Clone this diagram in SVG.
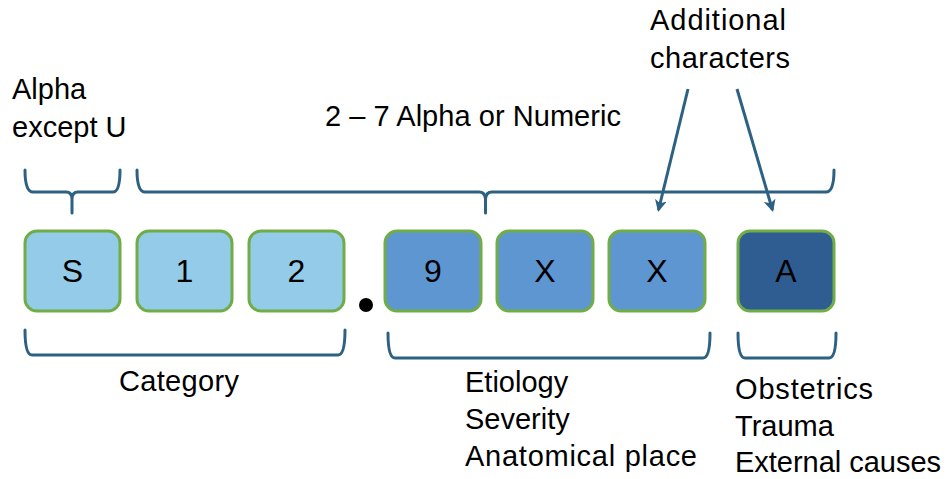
<svg xmlns="http://www.w3.org/2000/svg" width="949" height="479" viewBox="0 0 949 479">
  <style>
    text { font-family: "Liberation Sans", Arial, sans-serif; fill: #000; }
    .lbl { font-size: 29px; }
    .code { font-size: 32px; text-anchor: middle; }
    .box { stroke: #70AD47; stroke-width: 3; }
    .light { fill: #94CBE8; }
    .mid { fill: #5E96D2; }
    .dark { fill: #2F5C91; }
    .brace { fill: none; stroke: #2D6184; stroke-width: 3; stroke-linecap: round; stroke-linejoin: round; }
    .arrow { fill: none; stroke: #2D6184; stroke-width: 3; }
  </style>
  <defs>
    <marker id="head" viewBox="0 0 12 12" markerWidth="12" markerHeight="12" refX="10" refY="6" orient="auto" markerUnits="userSpaceOnUse">
      <path d="M0,0 L12,6 L0,12 L3,6 z" fill="#2D6184"/>
    </marker>
  </defs>

  <rect width="949" height="479" fill="#fff"/>

  <!-- Labels -->
  <g id="labels">
    <text class="lbl" x="12" y="99">Alpha</text>
    <text class="lbl" x="12" y="137">except U</text>
    <text class="lbl" x="325" y="126" textLength="296">2 – 7 Alpha or Numeric</text>
    <text class="lbl" x="650" y="30" textLength="136">Additional</text>
    <text class="lbl" x="650" y="68" textLength="140">characters</text>
    <text class="lbl" x="119" y="391" textLength="120">Category</text>
    <text class="lbl" x="465" y="392">Etiology</text>
    <text class="lbl" x="465" y="429">Severity</text>
    <text class="lbl" x="465" y="466" textLength="232">Anatomical place</text>
    <text class="lbl" x="735" y="399" textLength="138">Obstetrics</text>
    <text class="lbl" x="735" y="436">Trauma</text>
    <text class="lbl" x="735" y="472" textLength="206">External causes</text>
  </g>

  <!-- Character boxes -->
  <g id="char-S"><rect class="box light" x="25" y="231" width="95" height="80" rx="12"/><text class="code" x="72.5" y="282">S</text></g>
  <g id="char-1"><rect class="box light" x="137" y="231" width="95" height="80" rx="12"/><text class="code" x="184.5" y="282">1</text></g>
  <g id="char-2"><rect class="box light" x="249" y="231" width="95" height="80" rx="12"/><text class="code" x="296.5" y="282">2</text></g>
  <g id="dot"><circle cx="366" cy="305" r="7" fill="#000"/></g>
  <g id="char-9"><rect class="box mid" x="385" y="231" width="96" height="80" rx="12"/><text class="code" x="433" y="282">9</text></g>
  <g id="char-X1"><rect class="box mid" x="497" y="231" width="96" height="80" rx="12"/><text class="code" x="545" y="282">X</text></g>
  <g id="char-X2"><rect class="box mid" x="609" y="231" width="96" height="80" rx="12"/><text class="code" x="657" y="282">X</text></g>
  <g id="char-A"><rect class="box dark" x="738" y="231" width="96" height="80" rx="12"/><text class="code" x="786" y="282">A</text></g>

  <!-- Braces and arrows -->
  <g id="connectors">
    <path class="brace" d="M25,170 Q25,192 33,192 L66,192 Q72,192 72,199 L72,213 M72,199 Q72,192 78,192 L113,192 Q120,192 120,170"/>
    <path class="brace" d="M137,170 Q137,192 145,192 L479,192 Q485,192 485.5,199 L485.5,213 M485.5,199 Q486,192 492,192 L826,192 Q834,192 834,170"/>
    <path class="brace" d="M25,330 Q25,355 32,355 L338,355 Q345,355 345,330"/>
    <path class="brace" d="M388,333 Q388,358 395,358 L703,358 Q710,358 710,333"/>
    <path class="brace" d="M738,333 Q738,358 745,358 L829,358 Q836,358 836,333"/>
    <line class="arrow" x1="688" y1="89" x2="658.5" y2="210" marker-end="url(#head)"/>
    <line class="arrow" x1="737" y1="89" x2="772.5" y2="210" marker-end="url(#head)"/>
  </g>
</svg>
